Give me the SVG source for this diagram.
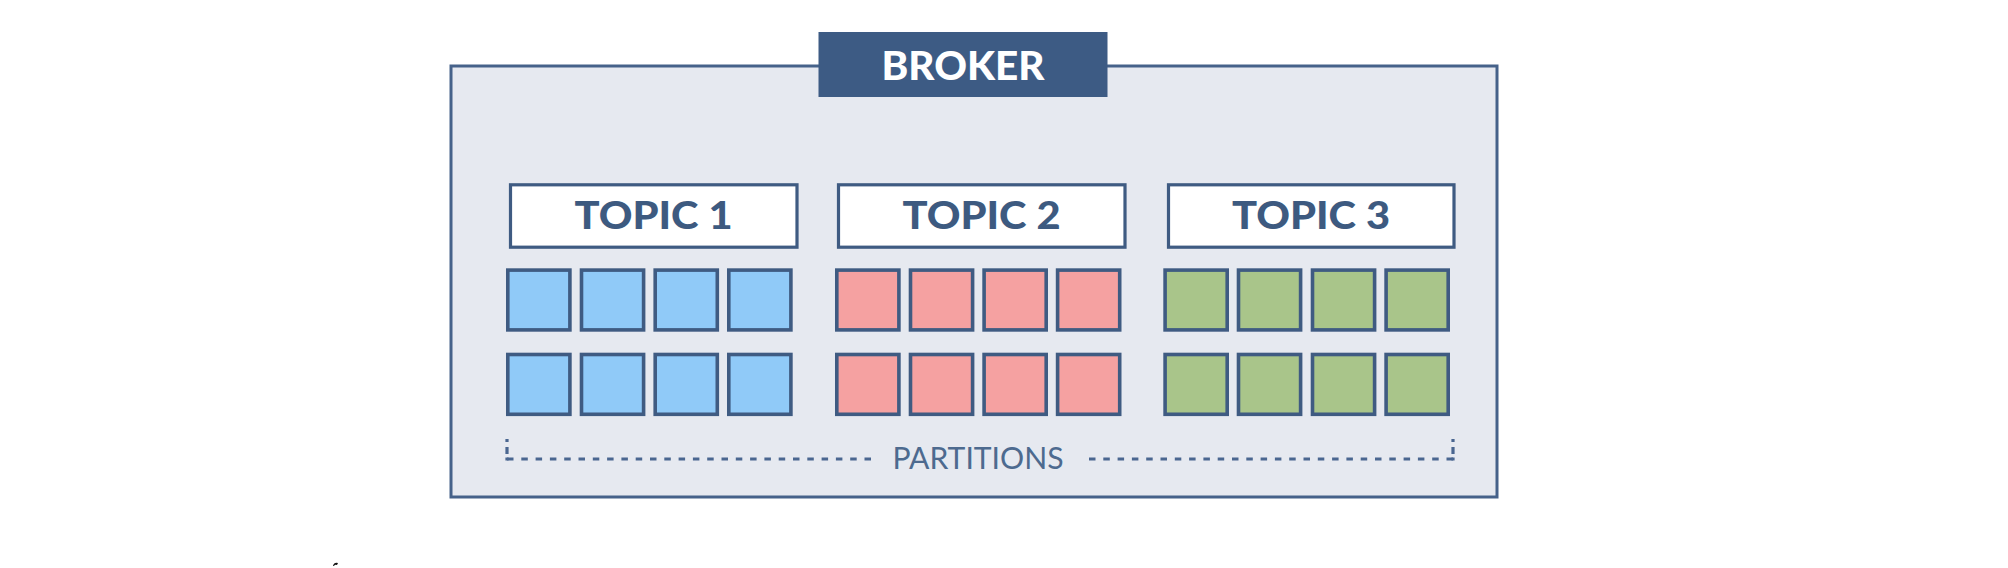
<svg xmlns="http://www.w3.org/2000/svg" width="2008" height="568" viewBox="0 0 2008 568">
  <style>
    .bg { fill: #ffffff; }
    .broker { fill: #e6e9f0; stroke: #46628a; stroke-width: 3; }
    .label { fill: #3d5b84; }
    .topic { fill: #ffffff; stroke: #3f5b82; stroke-width: 3.2; }
    .ttl { font-family: Lato, "Liberation Sans", sans-serif; font-weight: 900; fill: #3d5a80; text-anchor: middle; }
    .brk { font-family: Lato, "Liberation Sans", sans-serif; font-weight: 900; fill: #ffffff; text-anchor: middle; }
    .part { stroke: #3f5b82; stroke-width: 3.6; }
    .p1 { fill: #90caf8; }
    .p2 { fill: #f5a1a1; }
    .p3 { fill: #a9c58a; }
    .dash { fill: none; stroke: #4a6690; stroke-width: 3.2; stroke-dasharray: 6.5 7.8; }
    .ptxt { font-family: Lato, "Liberation Sans", sans-serif; font-weight: 400; fill: #4d6a8f; text-anchor: middle; }
  </style>
  <rect class="bg" x="0" y="0" width="2008" height="568"/>

  <g id="broker">
    <rect class="broker" x="451" y="66" width="1046" height="431"/>
    <rect class="label" x="818.5" y="32" width="289" height="65"/>
    <text class="brk" x="963" y="80" font-size="39.5" textLength="163" lengthAdjust="spacingAndGlyphs">BROKER</text>
  </g>

  <g id="topic1">
    <rect class="topic" x="510.5" y="184.8" width="286.5" height="62.4"/>
    <text class="ttl" x="653.5" y="229.3" font-size="38.5" textLength="158" lengthAdjust="spacingAndGlyphs">TOPIC 1</text>
    <rect class="part p1" x="507.8" y="270.1" width="62.1" height="59.8"/>
    <rect class="part p1" x="581.5" y="270.1" width="62.1" height="59.8"/>
    <rect class="part p1" x="655.2" y="270.1" width="62.1" height="59.8"/>
    <rect class="part p1" x="728.8" y="270.1" width="62.1" height="59.8"/>
    <rect class="part p1" x="507.8" y="354.5" width="62.1" height="59.8"/>
    <rect class="part p1" x="581.5" y="354.5" width="62.1" height="59.8"/>
    <rect class="part p1" x="655.2" y="354.5" width="62.1" height="59.8"/>
    <rect class="part p1" x="728.8" y="354.5" width="62.1" height="59.8"/>
  </g>

  <g id="topic2">
    <rect class="topic" x="838.5" y="184.8" width="286.5" height="62.4"/>
    <text class="ttl" x="981.5" y="229.3" font-size="38.5" textLength="158" lengthAdjust="spacingAndGlyphs">TOPIC 2</text>
    <rect class="part p2" x="836.8" y="270.1" width="62.1" height="59.8"/>
    <rect class="part p2" x="910.5" y="270.1" width="62.1" height="59.8"/>
    <rect class="part p2" x="984.1" y="270.1" width="62.1" height="59.8"/>
    <rect class="part p2" x="1057.6" y="270.1" width="62.1" height="59.8"/>
    <rect class="part p2" x="836.8" y="354.5" width="62.1" height="59.8"/>
    <rect class="part p2" x="910.5" y="354.5" width="62.1" height="59.8"/>
    <rect class="part p2" x="984.1" y="354.5" width="62.1" height="59.8"/>
    <rect class="part p2" x="1057.6" y="354.5" width="62.1" height="59.8"/>
  </g>

  <g id="topic3">
    <rect class="topic" x="1168.5" y="184.8" width="285.5" height="62.4"/>
    <text class="ttl" x="1311" y="229.3" font-size="38.5" textLength="158" lengthAdjust="spacingAndGlyphs">TOPIC 3</text>
    <rect class="part p3" x="1165.1" y="270.1" width="62.1" height="59.8"/>
    <rect class="part p3" x="1238.5" y="270.1" width="62.1" height="59.8"/>
    <rect class="part p3" x="1312.5" y="270.1" width="62.1" height="59.8"/>
    <rect class="part p3" x="1386.1" y="270.1" width="62.1" height="59.8"/>
    <rect class="part p3" x="1165.1" y="354.5" width="62.1" height="59.8"/>
    <rect class="part p3" x="1238.5" y="354.5" width="62.1" height="59.8"/>
    <rect class="part p3" x="1312.5" y="354.5" width="62.1" height="59.8"/>
    <rect class="part p3" x="1386.1" y="354.5" width="62.1" height="59.8"/>
  </g>

  <g id="partitions">
    <path class="dash" d="M507,459 H872"/>
    <path class="dash" d="M1453,459 H1082"/>
    <path d="M507,439 v3 M507,447 v7 M507,457.5 v3 M1453,439 v3 M1453,447 v7 M1453,457.5 v3" fill="none" stroke="#4a6690" stroke-width="3.2"/>
    <text class="ptxt" x="978" y="469.3" font-size="31" textLength="171" lengthAdjust="spacingAndGlyphs">PARTITIONS</text>
  </g>

  <path d="M333,566 q1,-4 5,-3 l-1,2 q-2,-1 -3,1 z" fill="#111111"/>
</svg>
